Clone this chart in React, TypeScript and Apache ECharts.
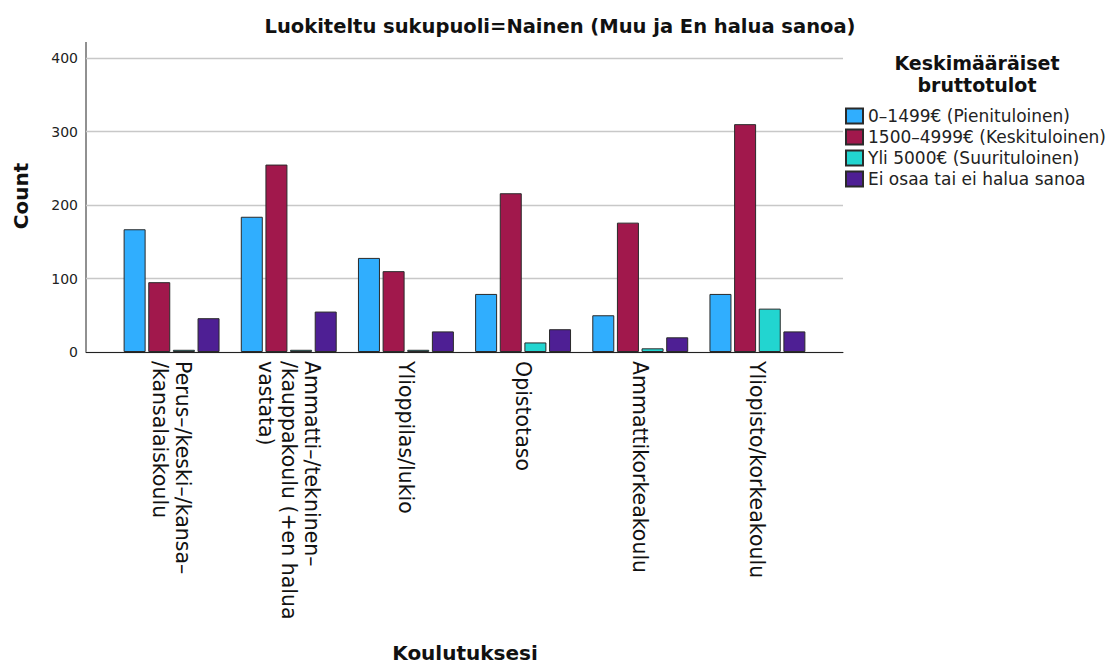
import React, { useEffect, useRef } from "react";
import * as echarts from "echarts";

const categories = [
  "Perus–/keski–/kansa–\n/kansalaiskoulu",
  "Ammatti–/tekninen–\n/kauppakoulu (+en halua\nvastata)",
  "Ylioppilas/lukio",
  "Opistotaso",
  "Ammattikorkeakoulu",
  "Yliopisto/korkeakoulu",
];
const seriesNames = [
  "0–1499€ (Pienituloinen)",
  "1500–4999€ (Keskituloinen)",
  "Yli 5000€ (Suurituloinen)",
  "Ei osaa tai ei halua sanoa",
];
const lowIncome = [167, 184, 128, 79, 50, 79];
const midIncome = [95, 255, 110, 216, 176, 310];
const highIncome = [3, 3, 3, 13, 5, 59];
const unknownIncome = [46, 55, 28, 31, 20, 28];
const yTicks = [0, 100, 200, 300, 400];
const colors = ["#30aefe", "#a1184c", "#22d5d0", "#4e1f94"];

const FONT = "DejaVu Sans";

export default function App() {
  const ref = useRef<HTMLDivElement>(null);
  useEffect(() => {
    if (!ref.current) return;
    const chart = echarts.init(ref.current, null, { renderer: "svg" });
    const values = [lowIncome, midIncome, highIncome, unknownIncome];
    chart.setOption({
      animation: false,
      textStyle: { fontFamily: FONT },
      grid: [
        { left: 86, width: 757, top: 58, height: 294 },
        { left: 113, width: 703, top: 58, height: 294 },
      ],
      xAxis: [
        {
          gridIndex: 0,
          type: "value",
          min: 0,
          max: 1,
          axisLine: { show: true, lineStyle: { color: "#222", width: 1 } },
          axisTick: { show: false },
          axisLabel: { show: false },
          splitLine: { show: false },
        },
        {
          gridIndex: 1,
          type: "category",
          data: categories,
          axisLine: { show: false },
          axisTick: { show: false },
          axisLabel: {
            rotate: -90,
            interval: 0,
            margin: 9,
            fontSize: 20.5,
            lineHeight: 23,
            color: "#111",
            fontFamily: FONT,
          },
        },
      ],
      yAxis: [
        {
          gridIndex: 0,
          type: "value",
          min: yTicks[0],
          max: yTicks[yTicks.length - 1],
          interval: 100,
          axisLine: { show: false },
          axisTick: { show: false },
          axisLabel: { fontSize: 14, color: "#222", margin: 8, fontFamily: FONT },
          splitLine: { show: true, lineStyle: { color: "#c8c8c8", width: 1.3 } },
        },
        {
          gridIndex: 1,
          type: "value",
          min: yTicks[0],
          max: yTicks[yTicks.length - 1],
          show: false,
          splitLine: { show: false },
        },
      ],
      legend: {
        orient: "vertical",
        left: 840,
        top: 102,
        itemWidth: 17,
        itemHeight: 15,
        itemGap: 3,
        icon: "rect",
        textStyle: { fontSize: 17, lineHeight: 18, color: "#222", fontFamily: FONT },
        data: seriesNames,
      },
      series: seriesNames.map((name, i) => ({
        name,
        type: "bar",
        xAxisIndex: 1,
        yAxisIndex: 1,
        data: values[i],
        barWidth: 22,
        barGap: "12%",
        itemStyle: { color: colors[i], borderColor: "#2a2a2a", borderWidth: 1 },
      })),
      graphic: [
        {
          type: "line",
          shape: { x1: 86, y1: 42, x2: 86, y2: 352 },
          style: { stroke: "#222", lineWidth: 1 },
        },
        {
          type: "text",
          x: 560,
          y: 26,
          style: {
            text: "Luokiteltu sukupuoli=Nainen (Muu ja En halua sanoa)",
            font: `bold 19.5px "${FONT}"`,
            fill: "#111",
            align: "center",
            verticalAlign: "middle",
          },
        },
        {
          type: "text",
          x: 977,
          y: 74,
          style: {
            text: "Keskimääräiset\nbruttotulot",
            font: `bold 19px "${FONT}"`,
            lineHeight: 22,
            fill: "#111",
            align: "center",
            verticalAlign: "middle",
          },
        },
        {
          type: "text",
          x: 21,
          y: 196,
          rotation: Math.PI / 2,
          style: {
            text: "Count",
            font: `bold 20px "${FONT}"`,
            fill: "#111",
            align: "center",
            verticalAlign: "middle",
          },
        },
        {
          type: "text",
          x: 465,
          y: 653,
          style: {
            text: "Koulutuksesi",
            font: `bold 20px "${FONT}"`,
            fill: "#111",
            align: "center",
            verticalAlign: "middle",
          },
        },
      ],
    });
    return () => chart.dispose();
  }, []);
  return (
    <div
      ref={ref}
      style={{ position: "absolute", left: 0, top: 0, width: 1110, height: 666, background: "#fff" }}
    />
  );
}
